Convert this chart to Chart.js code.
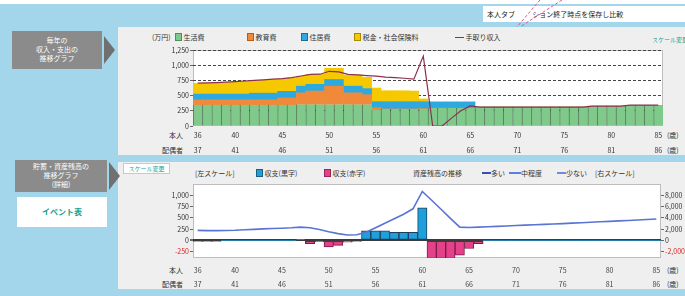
<!DOCTYPE html>
<html lang="ja">
<head>
<meta charset="utf-8">
<script src="https://cdn.jsdelivr.net/npm/chart.js@4.4.1/dist/chart.umd.min.js"></script>
<style>
    html, body { margin: 0; padding: 0; }
    body {
        width: 685px; height: 296px; position: relative; overflow: hidden;
        background: #a3d6ea; color: #333;
        font-family: "Noto Sans CJK JP", sans-serif;
    }
    .abs { position: absolute; white-space: nowrap; }
    .panel { position: absolute; background: #efefef; }
    .navbox {
        position: absolute; background: #8b8b8b; color: #fff;
        font-size: 7px; line-height: 9px; text-align: center;
    }
    .arrow {
        position: absolute; width: 0; height: 0;
        border-top: 14px solid transparent; border-bottom: 14px solid transparent;
        border-left: 11px solid #707070;
    }
    .t7 { font-size: 7px; line-height: 9px; }
    .box { display: inline-block; width: 5px; height: 6px; vertical-align: -1px; }
    .ln { display: inline-block; width: 9px; height: 0; vertical-align: 2px; }
    canvas { position: absolute; }
</style>
</head>
<body>
<div class="abs" style="left:0;top:0;width:685px;height:4px;background:#fff"></div>
<div class="abs t7" style="left:483px;top:6px;width:202px;height:16px;background:#fff;color:#222;line-height:16px;padding-left:4px">本人タブ&nbsp;&nbsp;&nbsp;&nbsp;&nbsp;&nbsp;&nbsp;&nbsp;&nbsp;&nbsp;&nbsp;ション終了時点を保存し比較</div>
<svg class="abs" style="left:480px;top:0" width="100" height="32">
    <line x1="60" y1="0" x2="36" y2="28" stroke="#e8508a" stroke-width="1" stroke-dasharray="3,2"/>
    <line x1="82" y1="0" x2="40" y2="27" stroke="#e8508a" stroke-width="1" stroke-dasharray="3,2"/>
</svg>

<div class="panel" style="left:118px;top:27px;width:567px;height:128px"></div>
<div class="panel" style="left:118px;top:162px;width:567px;height:127px"></div>

<div class="navbox" style="left:12px;top:31px;width:90px;height:38px;padding-top:5px;box-sizing:border-box">毎年の<br>収入・支出の<br>推移グラフ</div>
<div class="arrow" style="left:104px;top:36px"></div>
<div class="navbox" style="left:15px;top:160px;width:92px;height:32px;padding-top:2px;box-sizing:border-box">貯蓄・資産残高の<br>推移グラフ<br>(詳細)</div>
<div class="arrow" style="left:109px;top:162px"></div>
<div class="abs" style="left:17px;top:197px;width:90px;height:30px;background:#fff;color:#16a08c;font-size:8px;font-weight:bold;line-height:30px;text-align:center">イベント表</div>

<!-- top legend -->
<div class="abs t7" style="left:152px;top:33px">(万円)</div>
<div class="abs t7" style="left:175px;top:33px"><span class="box" style="background:#7fc98b;border:1px solid #4d8f58"></span> 生活費</div>
<div class="abs t7" style="left:247px;top:33px"><span class="box" style="background:#f08a3a;border:1px solid #b25d1c"></span> 教育費</div>
<div class="abs t7" style="left:301px;top:33px"><span class="box" style="background:#2ea9e0;border:1px solid #1a6f99"></span> 住居費</div>
<div class="abs t7" style="left:354px;top:33px"><span class="box" style="background:#f5c800;border:1px solid #a88a00"></span> 税金・社会保険料</div>
<div class="abs t7" style="left:455px;top:33px"><span class="ln" style="border-top:1px solid #8a3150"></span> 手取り収入</div>
<div class="abs" style="left:652px;top:35px;width:33px;overflow:hidden;font-size:6px;color:#16a08c">スケール変更</div>

<div class="abs t7" style="left:150px;top:131px;width:33px;text-align:right">本人</div>
<div class="abs t7" style="left:150px;top:146px;width:33px;text-align:right">配偶者</div>
<div class="abs t7" style="left:667px;top:131px">(歳)</div>
<div class="abs t7" style="left:667px;top:146px">(歳)</div>

<!-- bottom legend -->
<div class="abs" style="left:123px;top:163px;width:45px;height:9px;background:#fff;border:1px solid #c8c8c8;font-size:6px;line-height:9px;color:#16a08c;text-align:center">スケール変更</div>
<div class="abs t7" style="left:195px;top:169px">[左スケール]</div>
<div class="abs t7" style="left:256px;top:169px"><span class="box" style="background:#1ea0dc;border:1px solid #1b5f85"></span> 収支(黒字)</div>
<div class="abs t7" style="left:324px;top:169px"><span class="box" style="background:#e4418a;border:1px solid #982458"></span> 収支(赤字)</div>
<div class="abs t7" style="left:413px;top:169px">資産残高の推移</div>
<div class="abs t7" style="left:482px;top:169px"><span class="ln" style="border-top:2px solid #3a4fb0"></span>多い</div>
<div class="abs t7" style="left:509px;top:169px"><span class="ln" style="width:12px;border-top:2px dashed #5c7ee0"></span>中程度</div>
<div class="abs t7" style="left:557px;top:169px"><span class="ln" style="border-top:2px solid #6f8be0"></span>少ない</div>
<div class="abs t7" style="left:595px;top:169px">[右スケール]</div>

<div class="abs t7" style="left:150px;top:266px;width:33px;text-align:right">本人</div>
<div class="abs t7" style="left:150px;top:280px;width:33px;text-align:right">配偶者</div>
<div class="abs t7" style="left:667px;top:266px">(歳)</div>
<div class="abs t7" style="left:667px;top:280px">(歳)</div>

<canvas id="topChart" width="545" height="112" style="left:140px;top:44px"></canvas>
<canvas id="bottomChart" width="545" height="113" style="left:140px;top:176px"></canvas>

<script>
const ages = [36, 37, 38, 39, 40, 41, 42, 43, 44, 45, 46, 47, 48, 49, 50, 51, 52, 53, 54, 55,
    56, 57, 58, 59, 60, 61, 62, 63, 64, 65, 66, 67, 68, 69, 70, 71, 72, 73, 74, 75,
    76, 77, 78, 79, 80, 81, 82, 83, 84, 85];
const honninTicks = [36, 40, 45, 50, 55, 60, 65, 70, 75, 80, 85];
const haigushaTicks = [37, 41, 46, 51, 56, 61, 66, 71, 76, 81, 86];

// 万円
const seikatsuhi = [350, 350, 350, 350, 350, 350, 350, 350, 350, 350, 350, 355, 355, 355, 355, 355, 355, 355, 355, 265,
    280, 280, 280, 280, 285, 295, 295, 295, 295, 295, 310, 310, 310, 310, 310, 310, 310, 310, 310, 310,
    310, 310, 325, 325, 325, 325, 340, 340, 340, 340];
const kyouikuhi = [80, 80, 80, 80, 80, 80, 80, 80, 80, 110, 110, 190, 220, 220, 300, 300, 190, 190, 160, 35,
    0, 0, 0, 0, 0, 0, 0, 0, 0, 0, 0, 0, 0, 0, 0, 0, 0, 0, 0, 0,
    0, 0, 0, 0, 0, 0, 0, 0, 0, 0];
const jukyohi = [95, 95, 95, 95, 95, 95, 110, 110, 110, 110, 110, 110, 110, 110, 110, 110, 110, 110, 100, 100,
    120, 120, 120, 120, 115, 100, 100, 100, 100, 100, 0, 0, 0, 0, 0, 0, 0, 0, 0, 0,
    0, 0, 0, 0, 0, 0, 0, 0, 0, 0];
const zeikin = [175, 180, 185, 190, 200, 210, 205, 215, 225, 205, 220, 165, 165, 165, 185, 185, 185, 185, 185, 225,
    180, 180, 180, 175, 45, 0, 0, 0, 0, 0, 0, 0, 0, 0, 0, 0, 0, 0, 0, 0,
    0, 0, 0, 0, 0, 0, 0, 0, 0, 0];
const tedori = [705, 710, 715, 722, 730, 740, 750, 760, 770, 780, 795, 822, 850, 852, 900, 890, 850, 840, 830, 820,
    805, 795, 785, 770, 1150, 0, 0, 130, 250, 330, 312, 312, 312, 312, 312, 312, 312, 312, 312, 312,
    312, 312, 327, 327, 327, 327, 342, 342, 342, 342];
const topYTicks = [0, 250, 500, 750, 1000, 1250];

const shuushi = [-20, -20, -20, 0, 0, 0, 0, 0, 0, 0, 0, 10, -70, -30, -145, -110, -40, -15, 210, 210,
    210, 180, 180, 180, 720, -400, -400, -400, -330, -180, -70, 0, 0, 0, 0, 0, 0, 0, 0, 0,
    0, 0, 0, 0, 0, 0, 0, 0, 0, 0];
const shisanZandaka = [1780, 1740, 1730, 1760, 1800, 1880, 1960, 2040, 2100, 2160, 2240, 2360, 2240, 1920, 1520, 1200, 960, 1000, 1440, 2240,
    3040, 3840, 4640, 5600, 8680, 7120, 5520, 3900, 2350, 2300, 2360, 2420, 2490, 2560, 2630, 2700, 2770, 2840, 2910, 2980,
    3060, 3140, 3220, 3300, 3380, 3460, 3540, 3620, 3700, 3800];
const bottomYTicks = [-250, 0, 250, 500, 750, 1000];
const bottomY2Ticks = [-2000, 0, 2000, 4000, 6000, 8000];

const font = `"Noto Sans CJK JP", sans-serif`;

const plotFrame = {
    id: `plotFrame`,
    beforeDraw(chart) {
        const { ctx, chartArea: a } = chart;
        ctx.save();
        ctx.fillStyle = `#ffffff`;
        ctx.fillRect(a.left, a.top, a.right - a.left, a.bottom - a.top);
        ctx.strokeStyle = `#bdbdbd`;
        ctx.lineWidth = 1;
        ctx.strokeRect(a.left + 0.5, a.top + 0.5, a.right - a.left - 1, a.bottom - a.top - 1);
        ctx.restore();
    }
};

function ageLabel(value, index) {
    const i = honninTicks.indexOf(ages[index]);
    return i >= 0 ? [`${honninTicks[i]}`, `${haigushaTicks[i]}`] : ``;
}

function numLabel(value) {
    return value.toLocaleString(`en-US`);
}

new Chart(document.querySelector(`#topChart`), {
    type: `bar`,
    data: {
        labels: ages,
        datasets: [
            {
                type: `line`,
                label: `手取り収入`,
                data: tedori,
                borderColor: `#8a3150`,
                borderWidth: 1.2,
                pointRadius: 0,
                tension: 0,
                order: 0
            },
            {
                label: `生活費`,
                data: seikatsuhi,
                backgroundColor: `#7fc98b`,
                borderColor: `rgba(35, 80, 40, 0.75)`,
                borderWidth: { left: 1, right: 0, top: 0, bottom: 0 },
                borderSkipped: false,
                order: 1
            },
            { label: `教育費`, data: kyouikuhi, backgroundColor: `#f08a3a`, order: 1 },
            { label: `住居費`, data: jukyohi, backgroundColor: `#2ea9e0`, order: 1 },
            { label: `税金・社会保険料`, data: zeikin, backgroundColor: `#f5c800`, order: 1 }
        ]
    },
    options: {
        responsive: false,
        animation: false,
        devicePixelRatio: 1,
        layout: { padding: { top: 6, right: 22, bottom: 0, left: 0 } },
        datasets: { bar: { categoryPercentage: 1, barPercentage: 1 } },
        scales: {
            x: {
                stacked: true,
                grid: { display: false, drawTicks: false, tickLength: 0 },
                border: { display: false },
                ticks: {
                    autoSkip: false, maxRotation: 0, padding: 2,
                    color: `#333`, font: { family: font, size: 7, lineHeight: `15px` },
                    callback: ageLabel
                },
                afterFit: axis => { axis.height = 30; }
            },
            y: {
                stacked: true,
                min: 0,
                max: 1250,
                afterBuildTicks: axis => { axis.ticks = topYTicks.map(v => ({ value: v })); },
                grid: {
                    color: ctx => ctx.tick.value === 0 ? `transparent` : `#444`,
                    tickColor: `#666`,
                    tickLength: 3,
                    lineWidth: 1
                },
                border: { display: false, dash: [3, 2] },
                ticks: {
                    padding: 1, color: `#333`,
                    font: { family: font, size: 7 },
                    callback: numLabel
                },
                afterFit: axis => { axis.width = 53; }
            }
        },
        plugins: {
            legend: { display: false },
            tooltip: { enabled: false }
        }
    },
    plugins: [plotFrame]
});

new Chart(document.querySelector(`#bottomChart`), {
    type: `bar`,
    data: {
        labels: ages,
        datasets: [
            {
                type: `line`,
                label: `多い`,
                data: shisanZandaka,
                yAxisID: `y2`,
                borderColor: `#5a74d4`,
                borderWidth: 1.6,
                pointRadius: 0,
                tension: 0,
                order: 0
            },
            {
                label: `収支`,
                data: shuushi,
                yAxisID: `y`,
                backgroundColor: ctx => ctx.raw >= 0 ? `#1ea0dc` : `#e4418a`,
                borderColor: ctx => ctx.raw >= 0 ? `#1d3f5c` : `#7a1d45`,
                borderWidth: ctx => ctx.raw === 0 ? 0 : 1,
                borderSkipped: false,
                categoryPercentage: 1,
                barPercentage: 1,
                order: 1
            }
        ]
    },
    options: {
        responsive: false,
        animation: false,
        devicePixelRatio: 1,
        layout: { padding: { top: 8, right: 0, bottom: 0, left: 0 } },
        scales: {
            x: {
                grid: { display: false, drawTicks: false, tickLength: 0 },
                border: { display: false },
                ticks: {
                    autoSkip: false, maxRotation: 0, padding: 5,
                    color: `#444`, font: { family: font, size: 7, lineHeight: `14px` },
                    callback: ageLabel
                },
                afterFit: axis => { axis.height = 31; }
            },
            y: {
                position: `left`,
                min: -390,
                max: 1250,
                afterBuildTicks: axis => { axis.ticks = bottomYTicks.map(v => ({ value: v })); },
                grid: {
                    color: ctx => ctx.tick.value === 0 ? `#3a3a3a` : `transparent`,
                    lineWidth: ctx => ctx.tick.value === 0 ? 2 : 1,
                    tickColor: `#666`,
                    tickLength: 3
                },
                border: { display: false },
                ticks: {
                    padding: 1,
                    color: ctx => ctx.tick.value < 0 ? `#e02020` : `#333`,
                    font: { family: font, size: 7 },
                    callback: numLabel
                },
                afterFit: axis => { axis.width = 53; }
            },
            y2: {
                position: `right`,
                min: -3120,
                max: 10000,
                afterBuildTicks: axis => { axis.ticks = bottomY2Ticks.map(v => ({ value: v })); },
                grid: { drawOnChartArea: false, color: `#666`, tickLength: 3 },
                border: { display: false },
                ticks: {
                    padding: 1,
                    color: ctx => ctx.tick.value < 0 ? `#e02020` : `#333`,
                    font: { family: font, size: 7 },
                    callback: numLabel
                },
                afterFit: axis => { axis.width = 24; }
            }
        },
        plugins: {
            legend: { display: false },
            tooltip: { enabled: false }
        }
    },
    plugins: [plotFrame]
});
</script>
</body>
</html>
